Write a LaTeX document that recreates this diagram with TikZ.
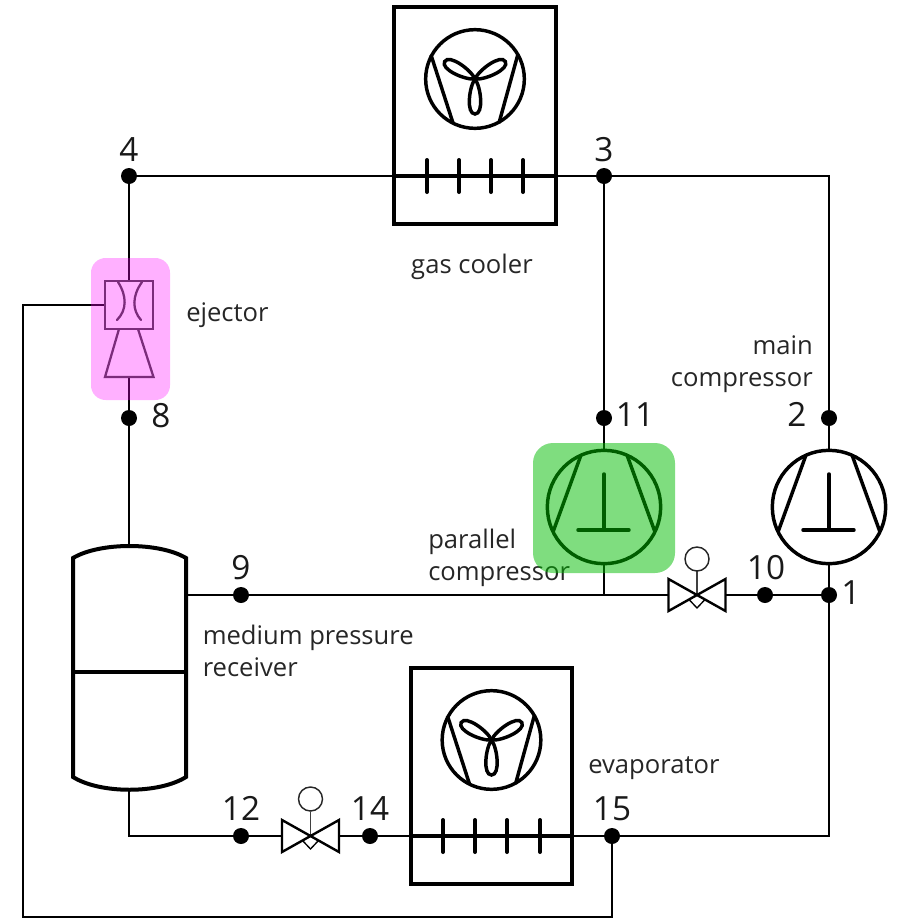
\documentclass[tikz,border=0pt]{standalone}
\usepackage{fontspec}
\setmainfont{Open Sans}
\definecolor{hlpink}{RGB}{255,0,255}
\definecolor{hlgreen}{RGB}{0,188,0}
\begin{document}
\begin{tikzpicture}[x=0.75pt,y=-0.75pt,
  pipe/.style={line width=2.2pt},
  coil/.style={line width=3pt},
  thick box/.style={draw,line width=3pt,minimum width=121pt,minimum height=162.5pt,inner sep=0pt},
  dot/.style={circle,fill=black,inner sep=0pt,minimum size=12pt},
  lbl/.style={anchor=base west,font=\fontsize{19.2pt}{22pt}\selectfont,inner sep=0pt,text=black!85},
  lblr/.style={lbl,anchor=base east},
  lblc/.style={lbl,anchor=base},
  num/.style={anchor=base,font=\fontsize{25pt}{28pt}\selectfont,inner sep=0pt,text=black!90},
  comp/.style={draw,circle,line width=2.6pt,minimum size=85pt,inner sep=0pt},
  fanc/.style={draw,circle,line width=2.6pt,minimum size=74pt,inner sep=0pt},
  sym/.style={line width=2.6pt},
  tick/.style={line width=3pt,line cap=round},
  valve/.style={line width=1.8pt},
  stem/.style={line width=1.1pt,draw=black!75},
  vball/.style={draw=black!85,circle,line width=1.1pt,minimum size=18pt,inner sep=0pt},
  ejline/.style={line width=1.7pt,draw=black!75}]
\useasboundingbox (0,0) rectangle (897,918);
% junctions
\node[dot] (n4) at (129,176) {};
\node[dot] (n3) at (604,176) {};
\node[dot] (n11) at (604,418) {};
\node[dot] (n2) at (829,418) {};
\node[dot] (n8) at (129,418) {};
\node[dot] (n9) at (241,595) {};
\node[dot] (n10) at (765,595) {};
\node[dot] (n1) at (829,595) {};
\node[dot] (n12) at (241,836) {};
\node[dot] (n14) at (370,836) {};
\node[dot] (n15) at (612,836) {};
% equipment
\node[thick box] (gc) at (475,115.5) {};
\node[thick box] (ev) at (491.5,776) {};
\node[comp] (pc) at (604,507) {};
\node[comp] (mc) at (829,507) {};
\node[fanc] (gf) at (475,79) {};
\node[fanc] (ef) at (491.5,740) {};
\coordinate (ejb) at (129,377);
\coordinate (rt) at (129,546);
\coordinate (rb) at (129,790);
\coordinate (rr) at (186,595);
\coordinate (v1l) at (668,595);
\coordinate (v1r) at (726,595);
\coordinate (v2l) at (282,836);
\coordinate (v2r) at (339,836);
\coordinate (t1) at (604,595);
\coordinate (ll1) at (23,305);
\coordinate (ll2) at (23,917);
\node[ejline,draw,minimum width=36.5pt,minimum height=36pt,inner sep=0pt] (ej) at (129,305) {};
% pipes
\draw[pipe] (n4) -- (n3);
\draw[pipe] (n3) -| (n2);
\draw[pipe] (n2) -- (mc);
\draw[pipe] (n3) -- (n11) -- (pc);
\draw[pipe] (n4) -- (ej);
\draw[pipe] (ejb) -- (n8) -- (rt);
\draw[pipe] (rr) -- (n9) -- (v1l);
\draw[pipe] (pc) -- (t1);
\draw[pipe] (v1r) -- (n10) -- (n1);
\draw[pipe] (mc) -- (n1);
\draw[pipe] (n1) |- (n15);
\draw[pipe] (rb) |- (n12);
\draw[pipe] (n12) -- (v2l);
\draw[pipe] (v2r) -- (n14) -- (n15);
\draw[pipe,line join=miter] (ej.west) -- (ll1) -- (ll2) -| (n15);
% coil lines inside the two boxes
\draw[coil] (gc.west |- n3) -- (gc.east |- n3);
\draw[coil] (ev.west |- n15) -- (ev.east |- n15);
% receiver
\draw[line width=3pt] (73,558) .. controls (100,542) and (159,542) .. (186,558) -- (186,777) .. controls (159,794) and (100,794) .. (73,777) -- cycle;
\draw[line width=3pt] (73,672) -- (186,672);
% coil ticks
\foreach \x in {427,459,491,523} \draw[tick] (\x,160) -- (\x,192);
\foreach \x in {443,475,507,540} \draw[tick] (\x,820) -- (\x,852);
% fans
\foreach \cx/\cy in {475/79,491.5/740}{
  \begin{scope}[shift={(\cx,\cy)}]
    \draw[sym] (-44,-24) -- (-22,44);
    \draw[sym] (43,-25) -- (24,44);
    \foreach \a in {0,120,240}
      \draw[sym,rotate=\a] (0,0) .. controls (-6,8) and (-9,35) .. (0,35) .. controls (9,35) and (6,8) .. (0,0);
  \end{scope}}
% compressors
\foreach \cx in {604,829}{
  \begin{scope}[shift={(\cx,507)}]
    \draw[sym] (-23,-52) -- (-51,25);
    \draw[sym] (23,-52) -- (51,25);
    \draw[sym,line cap=round] (0,-33) -- (0,23);
    \draw[sym,line cap=round] (-26,23) -- (25,23);
  \end{scope}}
% ejector inner
\draw[ejline,line cap=round] (118,282) .. controls (127,296) and (127,310) .. (117,320);
\draw[ejline,line cap=round] (142,282) .. controls (132,296) and (132,310) .. (141,320);
\draw[ejline] (119,329) -- (105,377) -- (153.5,377) -- (138,329);
% valves
\foreach \cx/\cy in {697/595,310.5/836}{
  \begin{scope}[shift={(\cx,\cy)}]
    \draw[stem] (0,0) -- (0,-24);
    \draw[line width=1pt] (-8,4.5) -- (0,13) -- (8,4.5);
    \draw[valve] (-28.5,-16) -- (28.5,16) -- (28.5,-16) -- (-28.5,16) -- cycle;
  \end{scope}}
\node[vball] (b1) at (697,559) {};
\node[vball] (b2) at (310.5,799) {};
% labels
\node[lblc] (tgc) at (472,273) {gas cooler};
\node[lbl] (tej) at (186,321) {ejector};
\node[lblr] (tm1) at (813,354) {main};
\node[lblr] (tm2) at (813,386) {compressor};
\node[lbl] (tp1) at (428,548) {parallel};
\node[lbl] (tp2) at (428,580) {compressor};
\node[lbl] (tr1) at (202.5,644) {medium pressure};
\node[lbl] (tr2) at (202.5,676) {receiver};
\node[lbl] (tev) at (588,773) {evaporator};
\node[num] (l4) at (129,161) {4};
\node[num] (l3) at (604,161) {3};
\node[num] (l8) at (161,427) {8};
\node[num] (l11) at (635,426) {11};
\node[num] (l2) at (797,426) {2};
\node[num] (l9) at (241,579) {9};
\node[num] (l10) at (766,579) {10};
\node[num] (l1) at (851,604) {1};
\node[num] (l12) at (241,820) {12};
\node[num] (l14) at (370,820) {14};
\node[num] (l15) at (612,820) {15};
% highlights
\fill[hlpink,opacity=.31,rounded corners=11pt] (91,258) rectangle (170,400);
\fill[hlgreen,opacity=.5,rounded corners=15pt] (533,443) rectangle (675,573);
\end{tikzpicture}
\end{document}
